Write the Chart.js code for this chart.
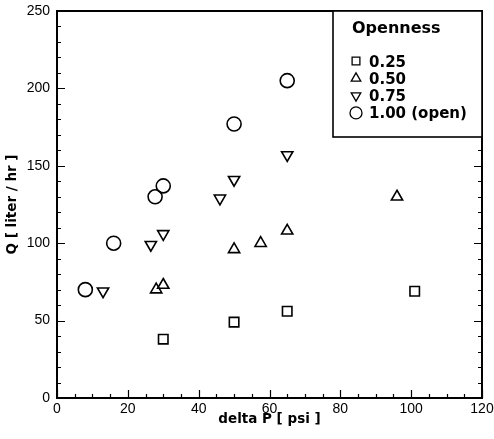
<!DOCTYPE html>
<html>
<head>
<meta charset="utf-8">
<script src="https://cdn.jsdelivr.net/npm/chart.js@4/dist/chart.umd.min.js"></script>
<style>
  html, body { margin: 0; padding: 0; background: #fff; }
  canvas { display: block; }
</style>
</head>
<body>
<canvas id="myChart" width="494" height="439"></canvas>
<script>
// values
const openness = ['0.25', '0.50', '0.75', '1.00 (open)'];
const dp025 = [30, 50, 65, 101];
const q025 = [38, 49, 56, 69];
const dp050 = [28, 30, 50, 57.5, 65, 96];
const q050 = [70, 73, 96, 100, 108, 130];
const dp075 = [13, 26.5, 30, 46, 50, 65];
const q075 = [69, 99, 106, 129, 141, 157];
const dp100 = [8, 16, 27.7, 30, 50, 65];
const q100 = [70, 100, 130, 137, 177, 205];
const xTicks = [0, 20, 40, 60, 80, 100, 120];
const yTicks = [0, 50, 100, 150, 200, 250];

function pts(xs, ys) {
    return xs.map((x, i) => ({ x: x, y: ys[i] }));
}

const styles = [
    { pointStyle: 'rect', radius: 6.7, rotation: 0 },
    { pointStyle: 'triangle', radius: 6.5, rotation: 0 },
    { pointStyle: 'triangle', radius: 6.5, rotation: 180 },
    { pointStyle: 'circle', radius: 7, rotation: 0 }
];
const series = [pts(dp025, q025), pts(dp050, q050), pts(dp075, q075), pts(dp100, q100)];

const datasets = series.map((d, i) => ({
    label: openness[i],
    data: d,
    pointStyle: styles[i].pointStyle,
    pointRadius: styles[i].radius,
    pointRotation: styles[i].rotation,
    pointBorderWidth: 1.6,
    pointBorderColor: '#000',
    pointBackgroundColor: 'rgba(0,0,0,0)',
    showLine: false
}));

// inward ticks, frame and the boxed legend
const framePlugin = {
    id: 'frame',
    afterDatasetsDraw(chart) {
        const ctx = chart.ctx;
        const a = chart.chartArea;
        const xs = chart.scales.x, ys = chart.scales.y;
        ctx.save();
        ctx.strokeStyle = '#000';
        ctx.lineWidth = 1.2;
        ctx.beginPath();
        for (let v = 0; v <= 120; v += 5) {
            const px = Math.round(xs.getPixelForValue(v)) + 0.5;
            const len = v % 20 === 0 ? 8 : 4;
            ctx.moveTo(px, a.bottom);
            ctx.lineTo(px, a.bottom - len);
        }
        for (let v = 0; v <= 250; v += 10) {
            const py = Math.round(ys.getPixelForValue(v)) + 0.5;
            const len = v % 50 === 0 ? 8 : 4;
            ctx.moveTo(a.left, py);
            ctx.lineTo(a.left + len, py);
            ctx.moveTo(a.right, py);
            ctx.lineTo(a.right - len, py);
        }
        ctx.stroke();
        ctx.lineWidth = 2;
        ctx.strokeRect(a.left, a.top, a.right - a.left, a.bottom - a.top);

        // legend box
        const bx = 333, by = a.top, bw = a.right - bx, bh = 126;
        ctx.fillStyle = '#fff';
        ctx.fillRect(bx, by, bw, bh);
        ctx.lineWidth = 1.6;
        ctx.strokeRect(bx, by, bw, bh);
        ctx.fillStyle = '#000';
        ctx.textBaseline = 'alphabetic';
        ctx.textAlign = 'left';
        ctx.font = 'bold 16px "DejaVu Sans"';
        ctx.fillText('Openness', 352, 33);
        ctx.font = 'bold 15px "DejaVu Sans"';
        const legendR = [5.5, 5.5, 5.5, 6];
        chart.data.datasets.forEach((ds, i) => {
            const cy = 61 + i * 17.3;
            ctx.fillText(ds.label, 369, cy + 5.5);
            ctx.fillStyle = '#fff';
            ctx.strokeStyle = '#000';
            ctx.lineWidth = 1.3;
            Chart.helpers.drawPoint(ctx, {
                pointStyle: ds.pointStyle,
                radius: legendR[i],
                rotation: ds.pointRotation,
                borderWidth: 1.3
            }, 356, cy);
            ctx.fillStyle = '#000';
        });
        ctx.restore();
    }
};

new Chart(document.getElementById('myChart').getContext('2d'), {
    type: 'scatter',
    data: { datasets: datasets },
    options: {
        responsive: false,
        animation: false,
        devicePixelRatio: 1,
        layout: { padding: { left: 0, right: 12, top: 11, bottom: 0 } },
        plugins: { legend: { display: false }, tooltip: { enabled: false } },
        scales: {
            x: {
                type: 'linear',
                min: 0,
                max: 120,
                afterBuildTicks: s => { s.ticks = xTicks.map(v => ({ value: v })); },
                afterFit: s => { s.height = 41; s.paddingLeft = 0; s.paddingRight = 0; },
                grid: { display: false, drawTicks: false },
                border: { display: true, color: '#000', width: 2 },
                ticks: { color: '#000', padding: 3, maxRotation: 0,
                         font: { family: '"Liberation Sans", Arial', size: 14 } },
                title: { display: true, text: 'delta P [ psi ]', color: '#000',
                         padding: { top: 0, bottom: 11 },
                         font: { family: '"DejaVu Sans"', size: 13.5, weight: 'bold' } }
            },
            y: {
                type: 'linear',
                min: 0,
                max: 250,
                afterBuildTicks: s => { s.ticks = yTicks.map(v => ({ value: v })); },
                afterFit: s => { s.width = 57; s.paddingTop = 0; s.paddingBottom = 0; },
                grid: { display: false, drawTicks: false },
                border: { display: true, color: '#000', width: 2 },
                ticks: { color: '#000', padding: 7,
                         font: { family: '"Liberation Sans", Arial', size: 14 } },
                title: { display: true, text: 'Q [ liter / hr ]', color: '#000',
                         padding: { top: 4, bottom: 0 },
                         font: { family: '"DejaVu Sans"', size: 13.5, weight: 'bold' } }
            }
        }
    },
    plugins: [framePlugin]
});
</script>
</body>
</html>
